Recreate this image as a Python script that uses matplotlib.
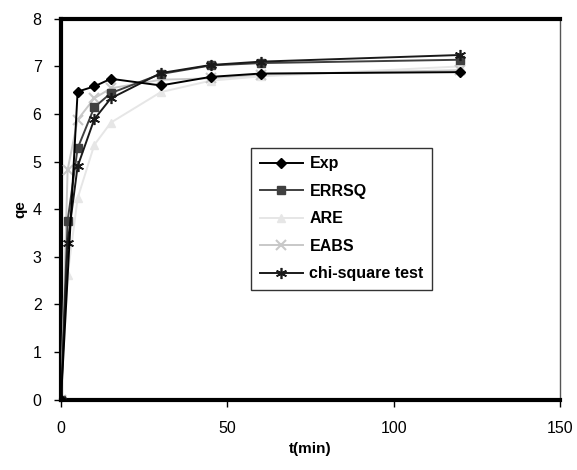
import matplotlib
matplotlib.use('Agg')
import matplotlib.pyplot as plt

plt.rcParams['font.family'] = ['Liberation Sans', 'DejaVu Sans']

# contact time (min) and qe for the data and each fitted error function
t = [0, 2, 5, 10, 15, 30, 45, 60, 120]
t_exp = [0, 5, 10, 15, 30, 45, 60, 120]
qe_exp = [0, 6.47, 6.58, 6.74, 6.60, 6.78, 6.85, 6.88]
qe_errsq = [0, 3.76, 5.28, 6.14, 6.44, 6.84, 7.02, 7.07, 7.14]
qe_are = [0, 2.62, 4.23, 5.35, 5.82, 6.46, 6.70, 6.79, 7.00]
qe_eabs = [0, 4.83, 5.88, 6.33, 6.54, 6.72, 6.75, 6.83, 6.92]
qe_chi = [0, 3.30, 4.90, 5.89, 6.33, 6.86, 7.03, 7.10, 7.24]

fig = plt.figure(figsize=(5.77, 4.70), dpi=100)
ax = fig.add_axes([0.1057, 0.1496, 0.8648, 0.8104])

ax.plot(t_exp, qe_exp, color='black', marker='D', markersize=5, lw=1.4, label='Exp', zorder=5)
ax.plot(t, qe_errsq, color='#404040', marker='s', markersize=5.5, lw=1.4, label='ERRSQ', zorder=4)
ax.plot(t, qe_are, color='#e6e6e6', marker='^', markersize=6, lw=1.4, label='ARE', zorder=2)
ax.plot(t, qe_eabs, color='#c8c8c8', marker='x', markersize=7, mew=1.5, lw=1.4, label='EABS', zorder=3)
ax.plot(t, qe_chi, color='#1a1a1a', marker=(6, 2, 0), markersize=8, mew=1.2, lw=1.4,
        label='chi-square test', zorder=4)

ax.set_xlim(0, 150)
ax.set_ylim(0, 8)
ax.set_xticks([0, 50, 100, 150])
ax.set_yticks(range(0, 9))
ax.tick_params(direction='out', length=5, width=1, labelsize=11.5)
ax.tick_params(axis='x', pad=10)
ax.tick_params(axis='y', pad=9)
for s in ['left', 'bottom', 'top']:
    ax.spines[s].set_linewidth(3)
ax.spines['right'].set_linewidth(1)
ax.spines['right'].set_color('#555555')

ax.set_xlabel('t(min)', fontsize=11, fontweight='bold', labelpad=5)
ax.set_ylabel('qe', fontsize=11, fontweight='bold', labelpad=4)

leg = ax.legend(loc='upper left', bbox_to_anchor=(0.381, 0.662), borderaxespad=0, frameon=True,
                fancybox=False, edgecolor='black', prop={'weight': 'bold', 'size': 11.5},
                handlelength=2.7, labelspacing=0.78, borderpad=0.55, handletextpad=0.4)
leg.get_frame().set_linewidth(1)

fig.savefig('out.png', dpi=100)
